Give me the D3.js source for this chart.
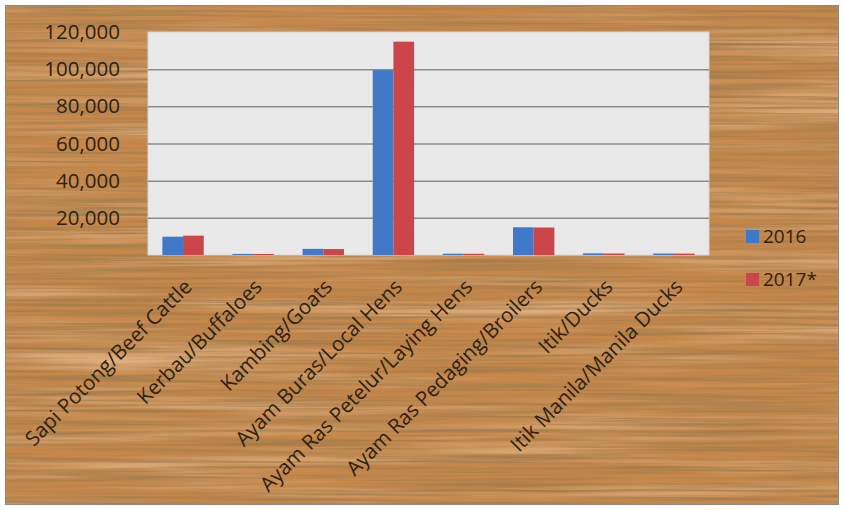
<!DOCTYPE html>
<html>
<head>
<meta charset="utf-8">
<script src="https://cdn.jsdelivr.net/npm/d3@7"></script>
<style>
  html, body { margin: 0; padding: 0; background: #ffffff; }
  svg { display: block; }
</style>
</head>
<body>
<svg id="chart" width="844" height="510"></svg>
<script>
// Livestock meat production by type, 2016 and 2017*
const categories = [
  "Sapi Potong/Beef Cattle",
  "Kerbau/Buffaloes",
  "Kambing/Goats",
  "Ayam Buras/Local Hens",
  "Ayam Ras Petelur/Laying Hens",
  "Ayam Ras Pedaging/Broilers",
  "Itik/Ducks",
  "Itik Manila/Manila Ducks"
];
const seriesNames = ["2016", "2017*"];
const values2016 = [9850, 600, 3300, 99500, 700, 14900, 900, 800];
const values2017 = [10400, 550, 3200, 114800, 650, 14800, 800, 750];
const yTicks = [0, 20000, 40000, 60000, 80000, 100000, 120000];
const seriesColors = ["#4079c7", "#cb4549"];

const svg = d3.select("#chart");
const inkColor = "#2f1f10";
const fontFamily = "'Open Sans', 'Noto Sans', sans-serif";

// ---- wooden panel background ----
const defs = svg.append("defs");
function grainFilter(id, freq, seed, rgb, gain, bias) {
  const f = defs.append("filter").attr("id", id)
    .attr("x", 0).attr("y", 0).attr("width", "100%").attr("height", "100%");
  f.append("feTurbulence").attr("type", "fractalNoise")
    .attr("baseFrequency", freq).attr("numOctaves", 4).attr("seed", seed);
  f.append("feColorMatrix").attr("type", "matrix")
    .attr("values", `0 0 0 0 ${rgb[0]}  0 0 0 0 ${rgb[1]}  0 0 0 0 ${rgb[2]}  ${gain} 0 0 0 ${bias}`);
}
grainFilter("sheen", "0.003 0.06", 21, [0.88, 0.64, 0.40], 1.2, -0.52);
grainFilter("grain", "0.005 0.30", 7, [0.36, 0.20, 0.07], 2.2, -0.84);

const panel = { x: 5, y: 5, w: 834, h: 500 };
svg.append("rect").attr("x", panel.x).attr("y", panel.y)
  .attr("width", panel.w).attr("height", panel.h).attr("fill", "#c6874b");
svg.append("rect").attr("x", panel.x).attr("y", panel.y)
  .attr("width", panel.w).attr("height", panel.h).attr("filter", "url(#sheen)");
svg.append("rect").attr("x", panel.x).attr("y", panel.y)
  .attr("width", panel.w).attr("height", panel.h).attr("filter", "url(#grain)");
svg.append("rect").attr("x", panel.x + 0.5).attr("y", panel.y + 0.5)
  .attr("width", panel.w - 1).attr("height", panel.h - 1)
  .attr("fill", "none").attr("stroke", "#8f8a86").attr("stroke-width", 1);

// ---- plot area ----
const plot = { left: 148, right: 709, top: 32, bottom: 255 };

const x0 = d3.scaleBand().domain(categories)
  .range([plot.left, plot.right]).paddingInner(0.41).paddingOuter(0.205);
const x1 = d3.scaleBand().domain(seriesNames).range([0, x0.bandwidth()]).padding(0);
const y = d3.scaleLinear().domain([0, 120000]).range([plot.bottom, plot.top]);

svg.append("rect")
  .attr("x", plot.left).attr("y", plot.top)
  .attr("width", plot.right - plot.left).attr("height", plot.bottom - plot.top)
  .attr("fill", "#e9e9e9").attr("stroke", "#d6d6d6");

// horizontal gridlines and value labels
const yAxis = d3.axisLeft(y).tickValues(yTicks)
  .tickFormat(d => d === 0 ? "" : d3.format(",")(d))
  .tickSize(-(plot.right - plot.left)).tickPadding(28);
const gy = svg.append("g").attr("transform", `translate(${plot.left},0)`).call(yAxis);
gy.select(".domain").remove();
gy.selectAll(".tick line")
  .attr("stroke", d => (d === 0 || d === 120000) ? "none" : "#8c8c8c")
  .attr("stroke-width", 1.5);
gy.selectAll(".tick text")
  .attr("fill", inkColor)
  .style("font-family", fontFamily)
  .style("font-size", "20.5px");

// bars
const rows = categories.map((c, i) => ({ cat: c, vals: [values2016[i], values2017[i]] }));
const groups = svg.append("g").selectAll("g").data(rows).join("g")
  .attr("transform", d => `translate(${x0(d.cat)},0)`);
groups.selectAll("rect")
  .data(d => d.vals.map((v, j) => ({ key: seriesNames[j], v, j })))
  .join("rect")
  .attr("x", d => x1(d.key))
  .attr("y", d => y(d.v))
  .attr("width", x1.bandwidth())
  .attr("height", d => y(0) - y(d.v))
  .attr("fill", d => seriesColors[d.j]);

// category labels (rotated)
const xAxis = d3.axisBottom(x0).tickSize(0).tickPadding(0);
const gx = svg.append("g").attr("transform", `translate(0,${plot.bottom})`).call(xAxis);
gx.select(".domain").remove();
gx.selectAll(".tick text")
  .attr("fill", inkColor)
  .style("font-family", fontFamily)
  .style("font-size", "20.5px")
  .attr("text-anchor", "end")
  .attr("dy", null).attr("y", 0)
  .attr("transform", "translate(10,33) rotate(-45)");

// legend
const legend = svg.append("g").selectAll("g").data(seriesNames).join("g")
  .attr("transform", (d, i) => `translate(746,${230 + i * 43})`);
legend.append("rect").attr("width", 13).attr("height", 13)
  .attr("fill", (d, i) => seriesColors[i]);
legend.append("text").attr("x", 17).attr("y", 13)
  .attr("fill", inkColor)
  .style("font-family", fontFamily)
  .style("font-size", "19px")
  .text(d => d);
</script>
</body>
</html>
